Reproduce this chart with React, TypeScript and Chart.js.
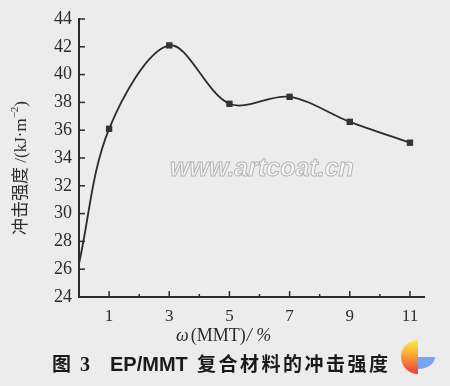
import React, { useEffect, useRef } from "react";
import { Chart, registerables } from "chart.js";

Chart.register(...registerables);

const massFraction = [0, 1, 3, 5, 7, 9, 11];
const impactStrength = [26.4, 36.1, 42.1, 37.9, 38.4, 36.6, 35.1];
const xMajorTicks = [1, 3, 5, 7, 9, 11];
const xMinorTicks = [2, 4, 6, 8, 10];
const yTickMin = 24;
const yTickMax = 44;
const yTickStep = 2;
const xAxisMax = 11.5;

const yTitleCn = "冲击强度";
const yTitleUnit = " /(kJ·m";
const yTitleSup = "−2";
const xTitleSymbol = "ω";
const xTitleRest = "(MMT)";
const xTitleUnit = "/ %";
const captionFig = "图";
const captionNum = "3";
const captionCode = "EP/MMT";
const captionText = "复合材料的冲击强度";
const watermark = "www.artcoat.cn";

const INK = "#2b2b2b";

const decorPlugin = {
  id: "decor",
  beforeDraw(chart: any) {
    const ctx = chart.ctx;
    ctx.save();
    ctx.fillStyle = "#ececec";
    ctx.fillRect(0, 0, chart.width, chart.height);
    ctx.restore();
  },
  beforeDatasetsDraw(chart: any) {
    const ctx = chart.ctx;
    ctx.save();
    ctx.font = 'italic bold 25px "Liberation Sans"';
    ctx.textBaseline = "alphabetic";
    ctx.lineWidth = 1;
    ctx.fillStyle = "#f6f6f6";
    ctx.strokeStyle = "#b5b5b5";
    ctx.fillText(watermark, 170, 176);
    ctx.strokeText(watermark, 170, 176);
    ctx.restore();
  },
  afterDraw(chart: any) {
    const ctx = chart.ctx;
    const xs = chart.scales.x;
    const ys = chart.scales.y;
    const area = chart.chartArea;
    ctx.save();
    ctx.strokeStyle = INK;
    ctx.lineWidth = 2;
    // axes
    ctx.beginPath();
    ctx.moveTo(area.left, ys.getPixelForValue(yTickMax) - 1);
    ctx.lineTo(area.left, area.bottom);
    ctx.lineTo(area.right, area.bottom);
    ctx.stroke();
    // y ticks (inward)
    ctx.lineWidth = 1.5;
    ys.ticks.forEach((t: any) => {
      const py = ys.getPixelForValue(t.value);
      ctx.beginPath();
      ctx.moveTo(area.left, py);
      ctx.lineTo(area.left + 6, py);
      ctx.stroke();
    });
    xMajorTicks.forEach((v) => {
      const px = xs.getPixelForValue(v);
      ctx.beginPath();
      ctx.moveTo(px, area.bottom);
      ctx.lineTo(px, area.bottom - 6);
      ctx.stroke();
    });
    xMinorTicks.forEach((v) => {
      const px = xs.getPixelForValue(v);
      ctx.beginPath();
      ctx.moveTo(px, area.bottom);
      ctx.lineTo(px, area.bottom - 3);
      ctx.stroke();
    });

    ctx.fillStyle = INK;
    ctx.textBaseline = "alphabetic";
    // x title
    let cx = 176;
    const xb = 341;
    ctx.font = 'italic 18px "Liberation Serif"';
    ctx.fillText(xTitleSymbol, cx, xb);
    cx += ctx.measureText(xTitleSymbol).width + 2;
    ctx.font = '18px "Liberation Serif"';
    ctx.fillText(xTitleRest, cx, xb);
    cx += ctx.measureText(xTitleRest).width + 1;
    ctx.font = 'italic 18px "Liberation Serif"';
    ctx.fillText(xTitleUnit, cx, xb);

    // y title (rotated)
    ctx.save();
    ctx.translate(26, 168);
    ctx.rotate(-Math.PI / 2);
    ctx.font = '17px "Noto Sans CJK SC"';
    const w1 = ctx.measureText(yTitleCn).width;
    ctx.font = '17px "Liberation Serif"';
    const w2 = ctx.measureText(yTitleUnit).width;
    ctx.font = '11px "Liberation Serif"';
    const w3 = ctx.measureText(yTitleSup).width;
    ctx.font = '17px "Liberation Serif"';
    const w4 = ctx.measureText(")").width;
    let ty = -(w1 + w2 + w3 + w4) / 2;
    ctx.font = '17px "Noto Sans CJK SC"';
    ctx.fillText(yTitleCn, ty, 0);
    ty += w1;
    ctx.font = '17px "Liberation Serif"';
    ctx.fillText(yTitleUnit, ty, 0);
    ty += w2;
    ctx.font = '11px "Liberation Serif"';
    ctx.fillText(yTitleSup, ty, -8);
    ty += w3;
    ctx.font = '17px "Liberation Serif"';
    ctx.fillText(")", ty, 0);
    ctx.restore();

    // caption
    const cb = 371;
    ctx.fillStyle = "#1a1a1a";
    ctx.font = 'bold 19px "Noto Sans CJK SC"';
    ctx.fillText(captionFig, 52, cb);
    ctx.font = 'bold 20px "Liberation Serif"';
    ctx.fillText(captionNum, 80, cb);
    ctx.font = 'bold 20px "Liberation Sans"';
    ctx.fillText(captionCode, 110, cb);
    ctx.font = 'bold 19px "Noto Sans CJK SC"';
    (ctx as any).letterSpacing = "2.5px";
    ctx.fillText(captionText, 197, cb);
    (ctx as any).letterSpacing = "0px";

    // logo
    const lx = 418;
    const ly = 357;
    const r = 17;
    const g = ctx.createLinearGradient(0, ly - r, 0, ly + r);
    g.addColorStop(0, "#fbf03c");
    g.addColorStop(0.45, "#f8a53a");
    g.addColorStop(1, "#ee3b3b");
    ctx.fillStyle = g;
    ctx.beginPath();
    ctx.moveTo(lx, ly);
    ctx.arc(lx, ly, r, Math.PI / 2, Math.PI * 1.5);
    ctx.closePath();
    ctx.fill();
    ctx.fillStyle = "#7ba4ee";
    ctx.beginPath();
    ctx.moveTo(lx, ly);
    ctx.ellipse(lx, ly, r, 12, 0, 0, Math.PI / 2);
    ctx.closePath();
    ctx.fill();
    ctx.restore();
  },
};

export default function App() {
  const ref = useRef<HTMLCanvasElement | null>(null);
  useEffect(() => {
    document.body.style.margin = "0";
    const canvas = ref.current;
    if (!canvas) return;
    const chart = new Chart(canvas, {
      type: "line",
      data: {
        datasets: [
          {
            data: massFraction.map((x, i) => ({ x, y: impactStrength[i] })),
            borderColor: INK,
            borderWidth: 1.8,
            tension: 0.33,
            fill: false,
            pointStyle: "rect",
            pointRadius: (c: any) => (c.dataIndex === 0 ? 0 : 4.5),
            pointBackgroundColor: "#333",
            pointBorderColor: "#333",
            pointBorderWidth: 0,
          },
        ],
      },
      options: {
        responsive: false,
        animation: false,
        devicePixelRatio: 1,
        layout: { padding: { top: 19, right: 25, left: 0, bottom: 0 } },
        plugins: { legend: { display: false }, tooltip: { enabled: false } },
        scales: {
          x: {
            type: "linear",
            min: 0,
            max: xAxisMax,
            grid: { display: false, drawTicks: false },
            border: { display: false },
            afterBuildTicks: (s: any) => {
              s.ticks = xMajorTicks.map((v) => ({ value: v }));
            },
            afterFit: (s: any) => {
              s.height = 89;
            },
            ticks: {
              padding: 9,
              color: INK,
              font: { family: '"Liberation Serif"', size: 17 },
              maxRotation: 0,
              callback: (v: any) => String(v),
            },
          },
          y: {
            min: yTickMin,
            max: yTickMax,
            grid: { display: false, drawTicks: false },
            border: { display: false },
            afterFit: (s: any) => {
              s.width = 79;
            },
            ticks: {
              stepSize: yTickStep,
              padding: 7,
              color: INK,
              font: { family: '"Liberation Serif"', size: 18 },
            },
          },
        },
      },
      plugins: [decorPlugin],
    } as any);
    return () => chart.destroy();
  }, []);
  return (
    <div style={{ width: 450, height: 386 }}>
      <canvas ref={ref} width={450} height={386} style={{ display: "block" }} />
    </div>
  );
}
